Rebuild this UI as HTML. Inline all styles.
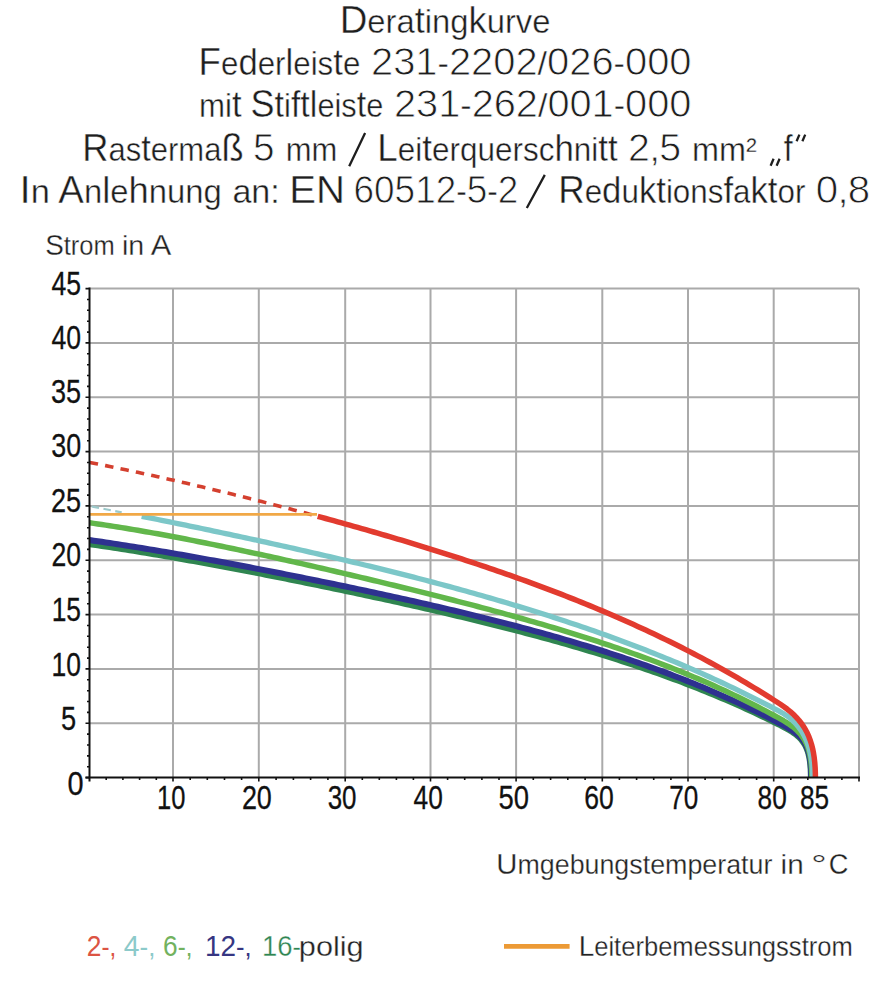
<!DOCTYPE html>
<html><head><meta charset="utf-8"><title>Deratingkurve</title>
<style>html,body{margin:0;padding:0;background:#fff;width:891px;height:1000px;overflow:hidden}svg{display:block}</style>
</head><body>
<svg width="891" height="1000" viewBox="0 0 891 1000">
<rect width="891" height="1000" fill="#fff"/>
<path d="M173.0,288.6V777.6 M258.8,288.6V777.6 M345.2,288.6V777.6 M430.5,288.6V777.6 M516.1,288.6V777.6 M602.3,288.6V777.6 M688.0,288.6V777.6 M773.7,288.6V777.6 M859.0,288.6V777.6 M89.5,723.3H859.0 M89.5,668.9H859.0 M89.5,614.6H859.0 M89.5,560.3H859.0 M89.5,505.9H859.0 M89.5,451.6H859.0 M89.5,397.3H859.0 M89.5,342.9H859.0 M89.5,288.6H859.0" stroke="#aaaaaa" stroke-width="2" fill="none"/>
<path d="M89.70,462.44 L93.70,463.22 L97.70,464.02 L101.70,464.82 L105.70,465.63 L109.70,466.45 L113.70,467.27 L117.70,468.10 L121.70,468.93 L125.70,469.77 L129.70,470.62 L133.70,471.47 L137.70,472.33 L141.70,473.20 L145.70,474.07 L149.70,474.95 L153.70,475.83 L157.70,476.72 L161.70,477.61 L165.70,478.51 L169.70,479.42 L173.70,480.33 L177.70,481.24 L181.70,482.16 L185.70,483.09 L189.70,484.02 L193.70,484.96 L197.70,485.90 L201.70,486.85 L205.70,487.80 L209.70,488.75 L213.70,489.71 L217.70,490.68 L221.70,491.65 L225.70,492.63 L229.70,493.60 L233.70,494.59 L237.70,495.58 L241.70,496.57 L245.70,497.57 L249.70,498.57 L253.70,499.58 L257.70,500.59 L261.70,501.61 L265.70,502.63 L269.70,503.66 L273.70,504.69 L277.70,505.72 L281.70,506.76 L285.70,507.81 L289.70,508.86 L293.70,509.91 L297.70,510.97 L301.70,512.03 L305.70,513.10 L309.70,514.17 L313.70,515.25 L317.70,516.33" stroke="#d4402f" stroke-width="3.6" fill="none" stroke-dasharray="8.5 7.2"/>
<path d="M89.70,506.13 L93.70,506.90 L97.70,507.67 L101.70,508.44 L105.70,509.21 L109.70,509.99 L113.70,510.77 L117.70,511.55 L121.70,512.34" stroke="#9cc9ca" stroke-width="2.2" fill="none" stroke-dasharray="7.5 4.5" stroke-dashoffset="-2"/>
<path d="M89.70,544.42 L93.70,544.99 L97.70,545.57 L101.70,546.16 L105.70,546.76 L109.70,547.37 L113.70,547.98 L117.70,548.59 L121.70,549.22 L125.70,549.85 L129.70,550.48 L133.70,551.13 L137.70,551.77 L141.70,552.43 L145.70,553.09 L149.70,553.75 L153.70,554.42 L157.70,555.10 L161.70,555.78 L165.70,556.46 L169.70,557.15 L173.70,557.85 L177.70,558.55 L181.70,559.25 L185.70,559.96 L189.70,560.68 L193.70,561.39 L197.70,562.11 L201.70,562.84 L205.70,563.57 L209.70,564.30 L213.70,565.04 L217.70,565.78 L221.70,566.53 L225.70,567.28 L229.70,568.03 L233.70,568.78 L237.70,569.54 L241.70,570.31 L245.70,571.07 L249.70,571.84 L253.70,572.61 L257.70,573.39 L261.70,574.17 L265.70,574.95 L269.70,575.73 L273.70,576.52 L277.70,577.31 L281.70,578.11 L285.70,578.90 L289.70,579.70 L293.70,580.51 L297.70,581.31 L301.70,582.12 L305.70,582.93 L309.70,583.75 L313.70,584.57 L317.70,585.39 L321.70,586.21 L325.70,587.04 L329.70,587.86 L333.70,588.70 L337.70,589.53 L341.70,590.37 L345.70,591.21 L349.70,592.06 L353.70,592.90 L357.70,593.75 L361.70,594.61 L365.70,595.46 L369.70,596.32 L373.70,597.19 L377.70,598.05 L381.70,598.92 L385.70,599.80 L389.70,600.67 L393.70,601.55 L397.70,602.44 L401.70,603.33 L405.70,604.22 L409.70,605.11 L413.70,606.01 L417.70,606.92 L421.70,607.83 L425.70,608.74 L429.70,609.65 L433.70,610.57 L437.70,611.50 L441.70,612.43 L445.70,613.36 L449.70,614.30 L453.70,615.25 L457.70,616.20 L461.70,617.15 L465.70,618.11 L469.70,619.07 L473.70,620.05 L477.70,621.02 L481.70,622.00 L485.70,622.99 L489.70,623.98 L493.70,624.98 L497.70,625.99 L501.70,627.00 L505.70,628.02 L509.70,629.05 L513.70,630.08 L517.70,631.12 L521.70,632.17 L525.70,633.23 L529.70,634.29 L533.70,635.36 L537.70,636.44 L541.70,637.52 L545.70,638.62 L549.70,639.72 L553.70,640.83 L557.70,641.95 L561.70,643.08 L565.70,644.22 L569.70,645.37 L573.70,646.53 L577.70,647.70 L581.70,648.88 L585.70,650.07 L589.70,651.26 L593.70,652.47 L597.70,653.70 L601.70,654.93 L605.70,656.17 L609.70,657.43 L613.70,658.69 L617.70,659.97 L621.70,661.27 L625.70,662.57 L629.70,663.89 L633.70,665.22 L637.70,666.56 L641.70,667.92 L645.70,669.29 L649.70,670.68 L653.70,672.08 L657.70,673.49 L661.70,674.92 L665.70,676.37 L669.70,677.83 L673.70,679.30 L677.70,680.80 L681.70,682.30 L685.70,683.83 L689.70,685.37 L693.70,686.93 L697.70,688.51 L701.70,690.11 L705.70,691.72 L709.70,693.35 L713.70,695.00 L717.70,696.67 L721.70,698.36 L725.70,700.07 L729.70,701.80 L733.70,703.55 L737.70,705.32 L741.70,707.11 L745.70,708.93 L749.70,710.76 L753.70,712.62 L757.70,714.50 L761.70,716.40 L765.70,718.33 L769.70,720.28 L773.70,722.25 L777.70,724.25 L780.00,725.41 L780.33,725.58 L783.48,727.20 L786.44,728.80 L789.22,730.40 L791.81,732.01 L794.22,733.66 L796.45,735.38 L798.51,737.18 L800.39,739.09 L802.10,741.13 L803.65,743.32 L805.03,745.68 L806.26,748.25 L807.32,751.04 L808.23,754.07 L808.99,757.36 L809.60,760.95 L810.06,764.84 L810.38,769.07 L810.56,773.66 L810.60,777.60" stroke="#2f8550" stroke-width="5.5" fill="none" stroke-linejoin="round"/>
<path d="M89.70,540.08 L93.70,540.66 L97.70,541.24 L101.70,541.82 L105.70,542.42 L109.70,543.02 L113.70,543.62 L117.70,544.24 L121.70,544.86 L125.70,545.48 L129.70,546.12 L133.70,546.76 L137.70,547.40 L141.70,548.05 L145.70,548.70 L149.70,549.36 L153.70,550.03 L157.70,550.70 L161.70,551.38 L165.70,552.06 L169.70,552.74 L173.70,553.43 L177.70,554.13 L181.70,554.83 L185.70,555.53 L189.70,556.24 L193.70,556.95 L197.70,557.67 L201.70,558.39 L205.70,559.11 L209.70,559.84 L213.70,560.57 L217.70,561.31 L221.70,562.05 L225.70,562.79 L229.70,563.54 L233.70,564.29 L237.70,565.04 L241.70,565.80 L245.70,566.56 L249.70,567.32 L253.70,568.09 L257.70,568.86 L261.70,569.63 L265.70,570.40 L269.70,571.18 L273.70,571.96 L277.70,572.75 L281.70,573.54 L285.70,574.33 L289.70,575.12 L293.70,575.92 L297.70,576.72 L301.70,577.52 L305.70,578.33 L309.70,579.14 L313.70,579.95 L317.70,580.76 L321.70,581.58 L325.70,582.40 L329.70,583.23 L333.70,584.05 L337.70,584.88 L341.70,585.72 L345.70,586.55 L349.70,587.39 L353.70,588.23 L357.70,589.08 L361.70,589.93 L365.70,590.78 L369.70,591.64 L373.70,592.50 L377.70,593.36 L381.70,594.23 L385.70,595.10 L389.70,595.97 L393.70,596.85 L397.70,597.73 L401.70,598.62 L405.70,599.51 L409.70,600.40 L413.70,601.30 L417.70,602.20 L421.70,603.11 L425.70,604.02 L429.70,604.94 L433.70,605.86 L437.70,606.79 L441.70,607.72 L445.70,608.65 L449.70,609.59 L453.70,610.54 L457.70,611.49 L461.70,612.45 L465.70,613.41 L469.70,614.38 L473.70,615.35 L477.70,616.34 L481.70,617.32 L485.70,618.32 L489.70,619.32 L493.70,620.32 L497.70,621.34 L501.70,622.36 L505.70,623.38 L509.70,624.42 L513.70,625.46 L517.70,626.51 L521.70,627.57 L525.70,628.64 L529.70,629.71 L533.70,630.79 L537.70,631.88 L541.70,632.98 L545.70,634.09 L549.70,635.21 L553.70,636.34 L557.70,637.48 L561.70,638.63 L565.70,639.78 L569.70,640.95 L573.70,642.13 L577.70,643.32 L581.70,644.52 L585.70,645.73 L589.70,646.95 L593.70,648.18 L597.70,649.43 L601.70,650.69 L605.70,651.96 L609.70,653.24 L613.70,654.54 L617.70,655.85 L621.70,657.17 L625.70,658.50 L629.70,659.85 L633.70,661.22 L637.70,662.60 L641.70,663.99 L645.70,665.40 L649.70,666.82 L653.70,668.26 L657.70,669.72 L661.70,671.19 L665.70,672.67 L669.70,674.18 L673.70,675.70 L677.70,677.24 L681.70,678.80 L685.70,680.37 L689.70,681.96 L693.70,683.57 L697.70,685.20 L701.70,686.85 L705.70,688.52 L709.70,690.21 L713.70,691.92 L717.70,693.65 L721.70,695.40 L725.70,697.17 L729.70,698.97 L733.70,700.78 L737.70,702.62 L741.70,704.48 L745.70,706.37 L749.70,708.27 L753.70,710.20 L757.70,712.16 L761.70,714.14 L765.70,716.14 L769.70,718.17 L773.70,720.23 L777.70,722.31 L780.00,723.52 L780.34,723.70 L783.63,725.47 L786.71,727.19 L789.59,728.89 L792.26,730.59 L794.74,732.33 L797.03,734.12 L799.12,735.99 L801.04,737.96 L802.77,740.06 L804.33,742.31 L805.71,744.74 L806.93,747.37 L807.99,750.23 L808.89,753.34 L809.63,756.72 L810.23,760.41 L810.68,764.42 L810.99,768.79 L811.16,773.52 L811.20,777.60" stroke="#2e3190" stroke-width="6" fill="none" stroke-linejoin="round"/>
<path d="M89.70,522.80 L93.70,523.36 L97.70,523.94 L101.70,524.52 L105.70,525.12 L109.70,525.73 L113.70,526.35 L117.70,526.98 L121.70,527.62 L125.70,528.27 L129.70,528.93 L133.70,529.60 L137.70,530.28 L141.70,530.97 L145.70,531.67 L149.70,532.37 L153.70,533.09 L157.70,533.81 L161.70,534.54 L165.70,535.28 L169.70,536.02 L173.70,536.77 L177.70,537.53 L181.70,538.30 L185.70,539.07 L189.70,539.85 L193.70,540.64 L197.70,541.43 L201.70,542.22 L205.70,543.03 L209.70,543.84 L213.70,544.65 L217.70,545.47 L221.70,546.30 L225.70,547.13 L229.70,547.96 L233.70,548.80 L237.70,549.64 L241.70,550.49 L245.70,551.35 L249.70,552.20 L253.70,553.07 L257.70,553.93 L261.70,554.80 L265.70,555.67 L269.70,556.55 L273.70,557.43 L277.70,558.31 L281.70,559.20 L285.70,560.09 L289.70,560.99 L293.70,561.88 L297.70,562.79 L301.70,563.69 L305.70,564.60 L309.70,565.51 L313.70,566.42 L317.70,567.34 L321.70,568.25 L325.70,569.18 L329.70,570.10 L333.70,571.03 L337.70,571.96 L341.70,572.89 L345.70,573.83 L349.70,574.77 L353.70,575.71 L357.70,576.65 L361.70,577.60 L365.70,578.55 L369.70,579.50 L373.70,580.46 L377.70,581.42 L381.70,582.38 L385.70,583.34 L389.70,584.31 L393.70,585.28 L397.70,586.26 L401.70,587.23 L405.70,588.21 L409.70,589.20 L413.70,590.18 L417.70,591.17 L421.70,592.17 L425.70,593.17 L429.70,594.17 L433.70,595.17 L437.70,596.18 L441.70,597.20 L445.70,598.21 L449.70,599.24 L453.70,600.26 L457.70,601.29 L461.70,602.33 L465.70,603.37 L469.70,604.41 L473.70,605.46 L477.70,606.52 L481.70,607.58 L485.70,608.64 L489.70,609.71 L493.70,610.79 L497.70,611.87 L501.70,612.96 L505.70,614.06 L509.70,615.16 L513.70,616.27 L517.70,617.38 L521.70,618.50 L525.70,619.63 L529.70,620.77 L533.70,621.92 L537.70,623.07 L541.70,624.23 L545.70,625.40 L549.70,626.58 L553.70,627.76 L557.70,628.96 L561.70,630.16 L565.70,631.38 L569.70,632.60 L573.70,633.83 L577.70,635.08 L581.70,636.33 L585.70,637.60 L589.70,638.87 L593.70,640.16 L597.70,641.46 L601.70,642.77 L605.70,644.09 L609.70,645.43 L613.70,646.78 L617.70,648.14 L621.70,649.52 L625.70,650.90 L629.70,652.31 L633.70,653.72 L637.70,655.16 L641.70,656.60 L645.70,658.07 L649.70,659.54 L653.70,661.04 L657.70,662.55 L661.70,664.07 L665.70,665.62 L669.70,667.18 L673.70,668.76 L677.70,670.36 L681.70,671.97 L685.70,673.61 L689.70,675.26 L693.70,676.94 L697.70,678.63 L701.70,680.35 L705.70,682.08 L709.70,683.84 L713.70,685.62 L717.70,687.42 L721.70,689.25 L725.70,691.09 L729.70,692.96 L733.70,694.86 L737.70,696.78 L741.70,698.72 L745.70,700.69 L749.70,702.68 L753.70,704.70 L757.70,706.75 L761.70,708.82 L765.70,710.93 L769.70,713.06 L773.70,715.22 L777.70,717.40 L780.00,718.67 L780.34,718.86 L783.59,720.73 L786.65,722.61 L789.53,724.51 L792.21,726.47 L794.71,728.48 L797.02,730.58 L799.16,732.77 L801.12,735.09 L802.91,737.54 L804.52,740.15 L805.96,742.92 L807.24,745.89 L808.36,749.07 L809.31,752.47 L810.10,756.12 L810.74,760.03 L811.23,764.22 L811.57,768.71 L811.75,773.51 L811.80,777.60" stroke="#62b74b" stroke-width="5.5" fill="none" stroke-linejoin="round"/>
<path d="M141.70,516.29 L145.70,517.09 L149.70,517.89 L153.70,518.70 L157.70,519.50 L161.70,520.31 L165.70,521.12 L169.70,521.94 L173.70,522.75 L177.70,523.57 L181.70,524.39 L185.70,525.21 L189.70,526.04 L193.70,526.87 L197.70,527.70 L201.70,528.53 L205.70,529.37 L209.70,530.20 L213.70,531.04 L217.70,531.89 L221.70,532.73 L225.70,533.58 L229.70,534.43 L233.70,535.29 L237.70,536.14 L241.70,537.00 L245.70,537.86 L249.70,538.73 L253.70,539.59 L257.70,540.46 L261.70,541.34 L265.70,542.21 L269.70,543.09 L273.70,543.97 L277.70,544.86 L281.70,545.75 L285.70,546.64 L289.70,547.53 L293.70,548.43 L297.70,549.33 L301.70,550.24 L305.70,551.14 L309.70,552.05 L313.70,552.97 L317.70,553.89 L321.70,554.81 L325.70,555.73 L329.70,556.66 L333.70,557.60 L337.70,558.53 L341.70,559.48 L345.70,560.42 L349.70,561.37 L353.70,562.32 L357.70,563.28 L361.70,564.24 L365.70,565.21 L369.70,566.18 L373.70,567.16 L377.70,568.14 L381.70,569.12 L385.70,570.11 L389.70,571.11 L393.70,572.11 L397.70,573.11 L401.70,574.12 L405.70,575.14 L409.70,576.16 L413.70,577.18 L417.70,578.21 L421.70,579.25 L425.70,580.29 L429.70,581.34 L433.70,582.40 L437.70,583.46 L441.70,584.53 L445.70,585.60 L449.70,586.68 L453.70,587.77 L457.70,588.86 L461.70,589.96 L465.70,591.06 L469.70,592.18 L473.70,593.30 L477.70,594.43 L481.70,595.56 L485.70,596.70 L489.70,597.85 L493.70,599.01 L497.70,600.18 L501.70,601.35 L505.70,602.53 L509.70,603.72 L513.70,604.92 L517.70,606.13 L521.70,607.34 L525.70,608.56 L529.70,609.80 L533.70,611.04 L537.70,612.29 L541.70,613.55 L545.70,614.82 L549.70,616.10 L553.70,617.39 L557.70,618.69 L561.70,620.00 L565.70,621.31 L569.70,622.64 L573.70,623.98 L577.70,625.34 L581.70,626.70 L585.70,628.07 L589.70,629.45 L593.70,630.85 L597.70,632.26 L601.70,633.67 L605.70,635.10 L609.70,636.55 L613.70,638.00 L617.70,639.47 L621.70,640.95 L625.70,642.44 L629.70,643.94 L633.70,645.46 L637.70,646.99 L641.70,648.54 L645.70,650.09 L649.70,651.67 L653.70,653.25 L657.70,654.85 L661.70,656.47 L665.70,658.09 L669.70,659.74 L673.70,661.40 L677.70,663.07 L681.70,664.76 L685.70,666.46 L689.70,668.18 L693.70,669.92 L697.70,671.67 L701.70,673.44 L705.70,675.22 L709.70,677.03 L713.70,678.84 L717.70,680.68 L721.70,682.53 L725.70,684.40 L729.70,686.29 L733.70,688.20 L737.70,690.12 L741.70,692.07 L745.70,694.03 L749.70,696.01 L753.70,698.01 L757.70,700.03 L761.70,702.07 L765.70,704.13 L769.70,706.20 L773.70,708.30 L777.70,710.42 L780.00,711.65 L780.31,711.82 L783.35,713.57 L786.25,715.45 L789.01,717.47 L791.64,719.64 L794.12,721.96 L796.45,724.44 L798.64,727.08 L800.68,729.89 L802.57,732.87 L804.30,736.03 L805.88,739.37 L807.29,742.91 L808.55,746.64 L809.64,750.57 L810.56,754.70 L811.32,759.05 L811.90,763.62 L812.31,768.40 L812.54,773.42 L812.60,777.60" stroke="#7cc7c8" stroke-width="5.3" fill="none" stroke-linejoin="round"/>
<path d="M89.7,514.4H317" stroke="#f1a846" stroke-width="2.7" fill="none"/>
<path d="M317.70,516.33 L321.70,517.42 L325.70,518.51 L329.70,519.60 L333.70,520.70 L337.70,521.81 L341.70,522.92 L345.70,524.04 L349.70,525.16 L353.70,526.29 L357.70,527.42 L361.70,528.56 L365.70,529.70 L369.70,530.85 L373.70,532.00 L377.70,533.16 L381.70,534.33 L385.70,535.50 L389.70,536.67 L393.70,537.86 L397.70,539.04 L401.70,540.24 L405.70,541.44 L409.70,542.65 L413.70,543.86 L417.70,545.08 L421.70,546.31 L425.70,547.54 L429.70,548.78 L433.70,550.03 L437.70,551.28 L441.70,552.55 L445.70,553.82 L449.70,555.09 L453.70,556.38 L457.70,557.67 L461.70,558.97 L465.70,560.27 L469.70,561.59 L473.70,562.91 L477.70,564.25 L481.70,565.59 L485.70,566.94 L489.70,568.29 L493.70,569.66 L497.70,571.04 L501.70,572.42 L505.70,573.82 L509.70,575.22 L513.70,576.64 L517.70,578.06 L521.70,579.50 L525.70,580.94 L529.70,582.40 L533.70,583.86 L537.70,585.34 L541.70,586.83 L545.70,588.33 L549.70,589.84 L553.70,591.36 L557.70,592.90 L561.70,594.44 L565.70,596.00 L569.70,597.57 L573.70,599.16 L577.70,600.75 L581.70,602.36 L585.70,603.99 L589.70,605.62 L593.70,607.27 L597.70,608.94 L601.70,610.62 L605.70,612.31 L609.70,614.02 L613.70,615.74 L617.70,617.48 L621.70,619.23 L625.70,621.00 L629.70,622.78 L633.70,624.59 L637.70,626.40 L641.70,628.24 L645.70,630.09 L649.70,631.96 L653.70,633.84 L657.70,635.75 L661.70,637.67 L665.70,639.61 L669.70,641.57 L673.70,643.54 L677.70,645.54 L681.70,647.56 L685.70,649.59 L689.70,651.65 L693.70,653.72 L697.70,655.82 L701.70,657.94 L705.70,660.07 L709.70,662.23 L713.70,664.42 L717.70,666.62 L721.70,668.85 L725.70,671.09 L729.70,673.37 L733.70,675.66 L737.70,677.98 L741.70,680.32 L745.70,682.69 L749.70,685.08 L753.70,687.50 L757.70,689.94 L761.70,692.41 L765.70,694.91 L769.70,697.43 L773.70,699.97 L777.70,702.55 L780.00,704.04 L780.37,704.28 L783.99,706.75 L787.40,709.28 L790.59,711.88 L793.57,714.57 L796.36,717.35 L798.93,720.23 L801.31,723.24 L803.49,726.38 L805.48,729.66 L807.28,733.10 L808.89,736.70 L810.31,740.49 L811.56,744.47 L812.62,748.66 L813.51,753.06 L814.22,757.69 L814.76,762.57 L815.14,767.69 L815.35,773.09 L815.40,777.60" stroke="#e23b2f" stroke-width="5.5" fill="none" stroke-linejoin="round"/>
<path d="M89.5,287.6V781.6 M85.5,777.6H860.0" stroke="#111" stroke-width="2" fill="none"/>
<path d="M85.5,777.6H89.5 M87.0,766.7H89.5 M87.0,755.9H89.5 M87.0,745.0H89.5 M87.0,734.1H89.5 M85.5,723.3H89.5 M87.0,712.4H89.5 M87.0,701.5H89.5 M87.0,690.7H89.5 M87.0,679.8H89.5 M85.5,668.9H89.5 M87.0,658.1H89.5 M87.0,647.2H89.5 M87.0,636.3H89.5 M87.0,625.5H89.5 M85.5,614.6H89.5 M87.0,603.7H89.5 M87.0,592.9H89.5 M87.0,582.0H89.5 M87.0,571.1H89.5 M85.5,560.3H89.5 M87.0,549.4H89.5 M87.0,538.5H89.5 M87.0,527.7H89.5 M87.0,516.8H89.5 M85.5,505.9H89.5 M87.0,495.1H89.5 M87.0,484.2H89.5 M87.0,473.3H89.5 M87.0,462.5H89.5 M85.5,451.6H89.5 M87.0,440.7H89.5 M87.0,429.9H89.5 M87.0,419.0H89.5 M87.0,408.1H89.5 M85.5,397.3H89.5 M87.0,386.4H89.5 M87.0,375.5H89.5 M87.0,364.7H89.5 M87.0,353.8H89.5 M85.5,342.9H89.5 M87.0,332.1H89.5 M87.0,321.2H89.5 M87.0,310.3H89.5 M87.0,299.5H89.5 M85.5,288.6H89.5 M106.2,777.6V780.1 M122.9,777.6V780.1 M139.6,777.6V780.1 M156.3,777.6V780.1 M173.0,777.6V781.6 M190.2,777.6V780.1 M207.3,777.6V780.1 M224.5,777.6V780.1 M241.6,777.6V780.1 M258.8,777.6V781.6 M276.1,777.6V780.1 M293.4,777.6V780.1 M310.6,777.6V780.1 M327.9,777.6V780.1 M345.2,777.6V781.6 M362.3,777.6V780.1 M379.3,777.6V780.1 M396.4,777.6V780.1 M413.4,777.6V780.1 M430.5,777.6V781.6 M447.6,777.6V780.1 M464.7,777.6V780.1 M481.9,777.6V780.1 M499.0,777.6V780.1 M516.1,777.6V781.6 M533.3,777.6V780.1 M550.6,777.6V780.1 M567.8,777.6V780.1 M585.1,777.6V780.1 M602.3,777.6V781.6 M619.4,777.6V780.1 M636.6,777.6V780.1 M653.7,777.6V780.1 M670.9,777.6V780.1 M688.0,777.6V781.6 M705.1,777.6V780.1 M722.3,777.6V780.1 M739.4,777.6V780.1 M756.6,777.6V780.1 M773.7,777.6V781.6 M790.8,777.6V780.1 M807.8,777.6V780.1 M824.9,777.6V780.1 M841.9,777.6V780.1 M859.0,777.6V781.6" stroke="#111" stroke-width="1.6" fill="none"/>
<path d="M504,946.4H569.6" stroke="#ec9a35" stroke-width="4.6"/>
<path d="M349.2,166.2L365.1,132.9M526.8,208L544.8,174.9M770.6,165.8L773.6,158.8M776.6,165.8L779.6,158.8M796.6,141.2L799.4,134.6M802.4,141.2L805.2,134.6" stroke="#1e1e1e" stroke-width="2.3"/>
<text x="339.68" y="32.8" textLength="210.80" lengthAdjust="spacingAndGlyphs" font-family="Liberation Sans, sans-serif" fill="#1e1e1e" stroke="#fff" stroke-width="0.4"><tspan font-size="38.0">D</tspan><tspan font-size="32.5">era</tspan><tspan font-size="36.0">t</tspan><tspan font-size="32.5">ing</tspan><tspan font-size="36.0">k</tspan><tspan font-size="32.5">urve</tspan></text>
<text x="198.61" y="75.0" textLength="161.70" lengthAdjust="spacingAndGlyphs" font-family="Liberation Sans, sans-serif" fill="#1e1e1e" stroke="#fff" stroke-width="0.4"><tspan font-size="38.0">F</tspan><tspan font-size="32.5">e</tspan><tspan font-size="36.0">d</tspan><tspan font-size="32.5">er</tspan><tspan font-size="36.0">l</tspan><tspan font-size="32.5">eis</tspan><tspan font-size="36.0">t</tspan><tspan font-size="32.5">e</tspan></text>
<text x="371.00" y="75.0" textLength="320.52" lengthAdjust="spacingAndGlyphs" font-family="Liberation Sans, sans-serif" fill="#1e1e1e" stroke="#fff" stroke-width="0.4"><tspan font-size="38.0" stroke-width="0.80">231</tspan><tspan font-size="32.5">-</tspan><tspan font-size="38.0" stroke-width="0.80">2202</tspan><tspan font-size="32.5">/</tspan><tspan font-size="38.0" stroke-width="0.80">026</tspan><tspan font-size="32.5">-</tspan><tspan font-size="38.0" stroke-width="0.80">000</tspan></text>
<text x="199.08" y="117.0" textLength="42.52" lengthAdjust="spacingAndGlyphs" font-family="Liberation Sans, sans-serif" fill="#1e1e1e" stroke="#fff" stroke-width="0.4"><tspan font-size="32.5">mi</tspan><tspan font-size="36.0">t</tspan></text>
<text x="250.61" y="117.0" textLength="132.69" lengthAdjust="spacingAndGlyphs" font-family="Liberation Sans, sans-serif" fill="#1e1e1e" stroke="#fff" stroke-width="0.4"><tspan font-size="38.0">S</tspan><tspan font-size="36.0">t</tspan><tspan font-size="32.5">i</tspan><tspan font-size="36.0">ftl</tspan><tspan font-size="32.5">eis</tspan><tspan font-size="36.0">t</tspan><tspan font-size="32.5">e</tspan></text>
<text x="394.01" y="117.0" textLength="297.36" lengthAdjust="spacingAndGlyphs" font-family="Liberation Sans, sans-serif" fill="#1e1e1e" stroke="#fff" stroke-width="0.4"><tspan font-size="38.0" stroke-width="0.80">231</tspan><tspan font-size="32.5">-</tspan><tspan font-size="38.0" stroke-width="0.80">262</tspan><tspan font-size="32.5">/</tspan><tspan font-size="38.0" stroke-width="0.80">001</tspan><tspan font-size="32.5">-</tspan><tspan font-size="38.0" stroke-width="0.80">000</tspan></text>
<text x="82.24" y="160.6" textLength="161.33" lengthAdjust="spacingAndGlyphs" font-family="Liberation Sans, sans-serif" fill="#1e1e1e" stroke="#fff" stroke-width="0.4"><tspan font-size="38.0">R</tspan><tspan font-size="32.5">as</tspan><tspan font-size="36.0">t</tspan><tspan font-size="32.5">erma</tspan><tspan font-size="38.0">ß</tspan></text>
<text x="252.96" y="160.6" textLength="21.51" lengthAdjust="spacingAndGlyphs" font-family="Liberation Sans, sans-serif" fill="#1e1e1e" stroke="#fff" stroke-width="0.4"><tspan font-size="38.0" stroke-width="0.80">5</tspan></text>
<text x="285.70" y="160.6" textLength="51.56" lengthAdjust="spacingAndGlyphs" font-family="Liberation Sans, sans-serif" fill="#1e1e1e" stroke="#fff" stroke-width="0.4"><tspan font-size="32.5">mm</tspan></text>
<text x="377.30" y="160.6" textLength="240.35" lengthAdjust="spacingAndGlyphs" font-family="Liberation Sans, sans-serif" fill="#1e1e1e" stroke="#fff" stroke-width="0.4"><tspan font-size="38.0">L</tspan><tspan font-size="32.5">ei</tspan><tspan font-size="36.0">t</tspan><tspan font-size="32.5">erquersc</tspan><tspan font-size="36.0">h</tspan><tspan font-size="32.5">ni</tspan><tspan font-size="36.0">tt</tspan></text>
<text x="628.03" y="160.6" textLength="53.17" lengthAdjust="spacingAndGlyphs" font-family="Liberation Sans, sans-serif" fill="#1e1e1e" stroke="#fff" stroke-width="0.4"><tspan font-size="38.0" stroke-width="0.80">2</tspan><tspan font-size="32.5">,</tspan><tspan font-size="38.0" stroke-width="0.80">5</tspan></text>
<text x="692.01" y="160.6" textLength="64.76" lengthAdjust="spacingAndGlyphs" font-family="Liberation Sans, sans-serif" fill="#1e1e1e" stroke="#fff" stroke-width="0.4"><tspan font-size="32.5">mm²</tspan></text>
<text x="783.71" y="160.6" textLength="8.90" lengthAdjust="spacingAndGlyphs" font-family="Liberation Sans, sans-serif" fill="#1e1e1e" stroke="#fff" stroke-width="0.4"><tspan font-size="36.0">f</tspan></text>
<text x="19.56" y="203.0" textLength="30.33" lengthAdjust="spacingAndGlyphs" font-family="Liberation Sans, sans-serif" fill="#1e1e1e" stroke="#fff" stroke-width="0.4"><tspan font-size="38.0">I</tspan><tspan font-size="32.5">n</tspan></text>
<text x="58.39" y="203.0" textLength="163.49" lengthAdjust="spacingAndGlyphs" font-family="Liberation Sans, sans-serif" fill="#1e1e1e" stroke="#fff" stroke-width="0.4"><tspan font-size="38.0">A</tspan><tspan font-size="32.5">n</tspan><tspan font-size="36.0">l</tspan><tspan font-size="32.5">e</tspan><tspan font-size="36.0">h</tspan><tspan font-size="32.5">nung</tspan></text>
<text x="232.40" y="203.0" textLength="47.45" lengthAdjust="spacingAndGlyphs" font-family="Liberation Sans, sans-serif" fill="#1e1e1e" stroke="#fff" stroke-width="0.4"><tspan font-size="32.5">an:</tspan></text>
<text x="289.33" y="203.0" textLength="55.72" lengthAdjust="spacingAndGlyphs" font-family="Liberation Sans, sans-serif" fill="#1e1e1e" stroke="#fff" stroke-width="0.4"><tspan font-size="38.0">EN</tspan></text>
<text x="353.56" y="203.0" textLength="164.78" lengthAdjust="spacingAndGlyphs" font-family="Liberation Sans, sans-serif" fill="#1e1e1e" stroke="#fff" stroke-width="0.4"><tspan font-size="38.0" stroke-width="0.80">60512</tspan><tspan font-size="32.5">-</tspan><tspan font-size="38.0" stroke-width="0.80">5</tspan><tspan font-size="32.5">-</tspan><tspan font-size="38.0" stroke-width="0.80">2</tspan></text>
<text x="558.21" y="203.0" textLength="247.18" lengthAdjust="spacingAndGlyphs" font-family="Liberation Sans, sans-serif" fill="#1e1e1e" stroke="#fff" stroke-width="0.4"><tspan font-size="38.0">R</tspan><tspan font-size="32.5">e</tspan><tspan font-size="36.0">d</tspan><tspan font-size="32.5">u</tspan><tspan font-size="36.0">kt</tspan><tspan font-size="32.5">ions</tspan><tspan font-size="36.0">f</tspan><tspan font-size="32.5">a</tspan><tspan font-size="36.0">kt</tspan><tspan font-size="32.5">or</tspan></text>
<text x="815.78" y="203.0" textLength="54.37" lengthAdjust="spacingAndGlyphs" font-family="Liberation Sans, sans-serif" fill="#1e1e1e" stroke="#fff" stroke-width="0.4"><tspan font-size="38.0" stroke-width="0.80">0</tspan><tspan font-size="32.5">,</tspan><tspan font-size="38.0" stroke-width="0.80">8</tspan></text>
<text x="45.21" y="254.8" textLength="69.48" lengthAdjust="spacingAndGlyphs" font-family="Liberation Sans, sans-serif" fill="#222" stroke="#fff" stroke-width="0.3"><tspan font-size="29.5">S</tspan><tspan font-size="27.0">trom</tspan></text>
<text x="121.98" y="254.8" textLength="22.25" lengthAdjust="spacingAndGlyphs" font-family="Liberation Sans, sans-serif" fill="#222" stroke="#fff" stroke-width="0.3"><tspan font-size="27.0">in</tspan></text>
<text x="150.86" y="254.8" textLength="20.56" lengthAdjust="spacingAndGlyphs" font-family="Liberation Sans, sans-serif" fill="#222" stroke="#fff" stroke-width="0.3"><tspan font-size="29.5">A</tspan></text>
<text x="496.31" y="874.3" textLength="276.06" lengthAdjust="spacingAndGlyphs" font-family="Liberation Sans, sans-serif" fill="#222" stroke="#fff" stroke-width="0.3"><tspan font-size="29.5">U</tspan><tspan font-size="27.0">mgebungstemperatur</tspan></text>
<text x="780.60" y="874.3" textLength="23.12" lengthAdjust="spacingAndGlyphs" font-family="Liberation Sans, sans-serif" fill="#222" stroke="#fff" stroke-width="0.3"><tspan font-size="27.0">in</tspan></text>
<text x="811.06" y="874.3" textLength="15.91" lengthAdjust="spacingAndGlyphs" font-family="Liberation Sans, sans-serif" fill="#222" stroke="#fff" stroke-width="0.3"><tspan font-size="27.0">°</tspan></text>
<text x="828.66" y="874.3" textLength="19.65" lengthAdjust="spacingAndGlyphs" font-family="Liberation Sans, sans-serif" fill="#222" stroke="#fff" stroke-width="0.3"><tspan font-size="29.5">C</tspan></text>
<text x="86.71" y="955.9" textLength="29.41" lengthAdjust="spacingAndGlyphs" font-family="Liberation Sans, sans-serif" fill="#dc5443"><tspan font-size="29.5">2</tspan><tspan font-size="27.0">-,</tspan></text>
<text x="123.84" y="955.9" textLength="31.50" lengthAdjust="spacingAndGlyphs" font-family="Liberation Sans, sans-serif" fill="#8ccaca"><tspan font-size="29.5">4</tspan><tspan font-size="27.0">-,</tspan></text>
<text x="163.11" y="955.9" textLength="29.30" lengthAdjust="spacingAndGlyphs" font-family="Liberation Sans, sans-serif" fill="#72b25e"><tspan font-size="29.5">6</tspan><tspan font-size="27.0">-,</tspan></text>
<text x="205.01" y="955.9" textLength="46.70" lengthAdjust="spacingAndGlyphs" font-family="Liberation Sans, sans-serif" fill="#363682"><tspan font-size="29.5">12</tspan><tspan font-size="27.0">-,</tspan></text>
<text x="262.04" y="955.9" textLength="38.93" lengthAdjust="spacingAndGlyphs" font-family="Liberation Sans, sans-serif" fill="#2f8552" stroke="#fff" stroke-width="0.3"><tspan font-size="29.5">16</tspan><tspan font-size="27.0">-</tspan></text>
<text x="298.83" y="955.9" textLength="64.80" lengthAdjust="spacingAndGlyphs" font-family="Liberation Sans, sans-serif" fill="#222" stroke="#fff" stroke-width="0.3"><tspan font-size="27.0">polig</tspan></text>
<text x="578.66" y="955.5" textLength="274.10" lengthAdjust="spacingAndGlyphs" font-family="Liberation Sans, sans-serif" fill="#222" stroke="#fff" stroke-width="0.3"><tspan font-size="29.5">L</tspan><tspan font-size="27.0">eiterbemessungsstrom</tspan></text>
<text x="51.50" y="294.5" textLength="29.58" lengthAdjust="spacingAndGlyphs" font-family="Liberation Sans, sans-serif" font-size="33" fill="#111" stroke="#111" stroke-width="0.3">45</text>
<text x="51.50" y="349.3" textLength="29.58" lengthAdjust="spacingAndGlyphs" font-family="Liberation Sans, sans-serif" font-size="33" fill="#111" stroke="#111" stroke-width="0.3">40</text>
<text x="50.98" y="403.3" textLength="30.11" lengthAdjust="spacingAndGlyphs" font-family="Liberation Sans, sans-serif" font-size="33" fill="#111" stroke="#111" stroke-width="0.3">35</text>
<text x="51.19" y="457.3" textLength="29.90" lengthAdjust="spacingAndGlyphs" font-family="Liberation Sans, sans-serif" font-size="33" fill="#111" stroke="#111" stroke-width="0.3">30</text>
<text x="50.98" y="511.8" textLength="30.11" lengthAdjust="spacingAndGlyphs" font-family="Liberation Sans, sans-serif" font-size="33" fill="#111" stroke="#111" stroke-width="0.3">25</text>
<text x="51.49" y="565.5" textLength="29.58" lengthAdjust="spacingAndGlyphs" font-family="Liberation Sans, sans-serif" font-size="33" fill="#111" stroke="#111" stroke-width="0.3">20</text>
<text x="51.70" y="621.1" textLength="29.38" lengthAdjust="spacingAndGlyphs" font-family="Liberation Sans, sans-serif" font-size="33" fill="#111" stroke="#111" stroke-width="0.3">15</text>
<text x="51.59" y="675.5" textLength="29.48" lengthAdjust="spacingAndGlyphs" font-family="Liberation Sans, sans-serif" font-size="33" fill="#111" stroke="#111" stroke-width="0.3">10</text>
<text x="60.97" y="729.6" textLength="15.15" lengthAdjust="spacingAndGlyphs" font-family="Liberation Sans, sans-serif" font-size="33" fill="#111" stroke="#111" stroke-width="0.3">5</text>
<text x="67.62" y="794.9" textLength="16.06" lengthAdjust="spacingAndGlyphs" font-family="Liberation Sans, sans-serif" font-size="33" fill="#111" stroke="#111" stroke-width="0.3">0</text>
<text x="157.05" y="808.6" textLength="28.40" lengthAdjust="spacingAndGlyphs" font-family="Liberation Sans, sans-serif" font-size="33" fill="#111" stroke="#111" stroke-width="0.3">10</text>
<text x="241.88" y="808.6" textLength="30.00" lengthAdjust="spacingAndGlyphs" font-family="Liberation Sans, sans-serif" font-size="33" fill="#111" stroke="#111" stroke-width="0.3">20</text>
<text x="327.71" y="808.6" textLength="28.85" lengthAdjust="spacingAndGlyphs" font-family="Liberation Sans, sans-serif" font-size="33" fill="#111" stroke="#111" stroke-width="0.3">30</text>
<text x="413.60" y="808.6" textLength="29.27" lengthAdjust="spacingAndGlyphs" font-family="Liberation Sans, sans-serif" font-size="33" fill="#111" stroke="#111" stroke-width="0.3">40</text>
<text x="498.57" y="808.6" textLength="30.53" lengthAdjust="spacingAndGlyphs" font-family="Liberation Sans, sans-serif" font-size="33" fill="#111" stroke="#111" stroke-width="0.3">50</text>
<text x="584.29" y="808.6" textLength="29.58" lengthAdjust="spacingAndGlyphs" font-family="Liberation Sans, sans-serif" font-size="33" fill="#111" stroke="#111" stroke-width="0.3">60</text>
<text x="669.21" y="808.6" textLength="29.06" lengthAdjust="spacingAndGlyphs" font-family="Liberation Sans, sans-serif" font-size="33" fill="#111" stroke="#111" stroke-width="0.3">70</text>
<text x="757.61" y="808.6" textLength="29.17" lengthAdjust="spacingAndGlyphs" font-family="Liberation Sans, sans-serif" font-size="33" fill="#111" stroke="#111" stroke-width="0.3">80</text>
<text x="800.01" y="808.6" textLength="29.17" lengthAdjust="spacingAndGlyphs" font-family="Liberation Sans, sans-serif" font-size="33" fill="#111" stroke="#111" stroke-width="0.3">85</text>
</svg>
</body></html>
